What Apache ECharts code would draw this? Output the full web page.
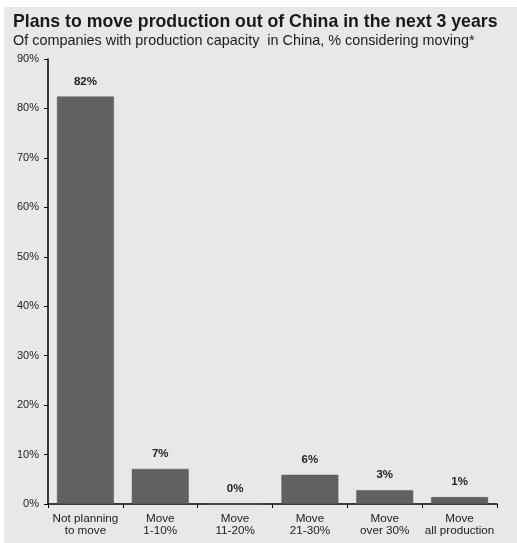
<!DOCTYPE html>
<html>
<head>
<meta charset="utf-8">
<script src="https://cdn.jsdelivr.net/npm/echarts@6/dist/echarts.min.js"></script>
<style>
html,body{margin:0;padding:0;background:#ffffff;}
#chart{width:517px;height:543px;}
</style>
</head>
<body>
<div id="chart"></div>
<script>
const categories = ["Not planning\nto move", "Move\n1-10%", "Move\n11-20%", "Move\n21-30%", "Move\nover 30%", "Move\nall production"];
const values = [82.4, 7.1, 0, 5.9, 2.8, 1.4];
const valueLabels = ["82%", "7%", "0%", "6%", "3%", "1%"];
const titleText = "Plans to move production out of China in the next 3 years";
const subtitleText = "Of companies with production capacity  in China, % considering moving*";

const chart = echarts.init(document.getElementById('chart'), null, {renderer: 'canvas'});
chart.setOption({
  backgroundColor: '#ffffff',
  animation: false,
  graphic: [{
    type: 'rect', z: -10, silent: true,
    shape: {x: 4, y: 7, width: 513, height: 536},
    style: {fill: '#e8e8e8'}
  }],
  title: {
    text: titleText,
    subtext: subtitleText,
    left: 8, top: 8,
    itemGap: 3,
    textStyle: {fontFamily: 'Liberation Sans, Arial', fontWeight: 'bold', fontSize: 17.7, color: '#1a1a1a'},
    subtextStyle: {fontFamily: 'Liberation Sans, Arial', fontSize: 14.4, color: '#1a1a1a'}
  },
  grid: {left: 48, right: 20, top: 59, bottom: 39, containLabel: false},
  xAxis: {
    type: 'category',
    data: categories,
    axisLine: {lineStyle: {color: '#000', width: 1.5}},
    axisTick: {show: true, length: 4, lineStyle: {color: '#000', width: 1}},
    axisLabel: {fontFamily: 'Liberation Sans, Arial', fontSize: 11.7, color: '#222', lineHeight: 12, margin: 9, interval: 0}
  },
  yAxis: {
    type: 'value',
    min: 0, max: 90, interval: 10,
    splitLine: {show: false},
    axisLine: {show: true, lineStyle: {color: '#000', width: 1.5}},
    axisTick: {show: true, length: 4, lineStyle: {color: '#000', width: 1}},
    axisLabel: {formatter: '{value}%', fontFamily: 'Liberation Sans, Arial', fontSize: 11, color: '#222', margin: 9}
  },
  series: [{
    type: 'bar',
    data: values,
    barCategoryGap: '24%',
    itemStyle: {color: '#616161', borderColor: '#555', borderWidth: 0.5},
    label: {
      show: true, position: 'top', distance: 9,
      formatter: p => valueLabels[p.dataIndex],
      fontFamily: 'Liberation Sans, Arial', fontWeight: 'bold', fontSize: 11.5, color: '#222'
    }
  }]
});
</script>
</body>
</html>
